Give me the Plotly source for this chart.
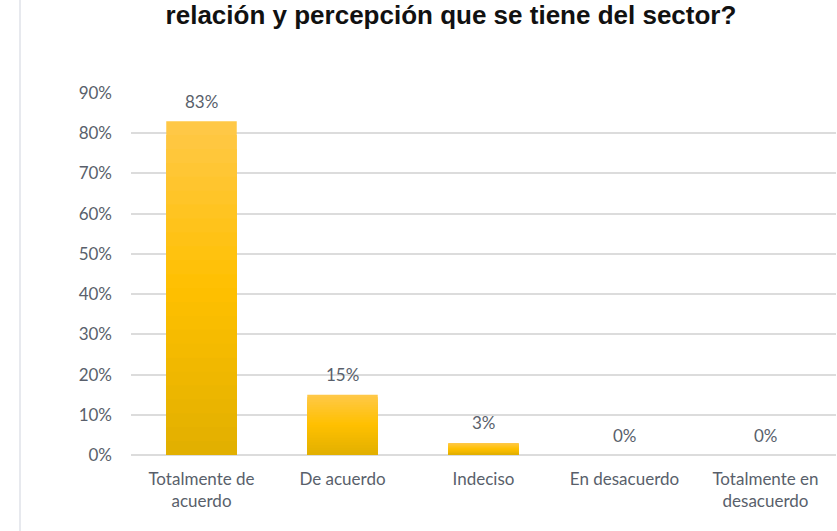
import plotly.graph_objects as go

# Survey responses
categories = ["Totalmente de<br>acuerdo", "De acuerdo", "Indeciso", "En desacuerdo", "Totalmente en<br>desacuerdo"]
shares = [0.83, 0.15, 0.03, 0.0, 0.0]
tick_values = [0, 0.1, 0.2, 0.3, 0.4, 0.5, 0.6, 0.7, 0.8, 0.9]
tick_labels = [f"{int(round(v * 100))}%" for v in tick_values]
title_text = "relación y percepción que se tiene del sector?"

LABEL_FONT = "Lato, Open Sans, sans-serif"
LABEL_COLOR = "#595F6B"

# Vertical gradient on the bars: overlay progressively shorter, darker bars
steps = 24
top_rgb = (255, 200, 70)
mid_rgb = (255, 192, 0)
bot_rgb = (226, 176, 0)


def blend(a, b, t):
    return tuple(int(round(a[i] + (b[i] - a[i]) * t)) for i in range(3))


fig = go.Figure()
for k in range(steps):
    frac = 1 - k / steps
    t = k / (steps - 1)
    if t < 0.5:
        c = blend(top_rgb, mid_rgb, t / 0.5)
    else:
        c = blend(mid_rgb, bot_rgb, (t - 0.5) / 0.5)
    fig.add_trace(go.Bar(
        x=categories,
        y=[v * frac for v in shares],
        marker=dict(color=f"rgb{c}", line=dict(width=0)),
        hoverinfo="skip",
        showlegend=False,
    ))

# Value labels above each bar
annotations = [
    dict(
        x=cat, y=v, xref="x", yref="y",
        text=f"{round(v * 100)}%",
        showarrow=False,
        yanchor="middle",
        yshift=20,
        font=dict(family=LABEL_FONT, size=17, color=LABEL_COLOR),
    )
    for cat, v in zip(categories, shares)
]

fig.update_layout(
    width=837,
    height=531,
    barmode="overlay",
    bargap=0.5,
    plot_bgcolor="white",
    paper_bgcolor="white",
    margin=dict(l=131, r=1, t=93, b=76),
    annotations=annotations,
    title=dict(
        text=title_text,
        x=451 / 837,
        xanchor="center",
        xref="container",
        y=1 - 15 / 531,
        yanchor="middle",
        yref="container",
        font=dict(family="Liberation Sans, Arial, sans-serif", size=26, color="#111111", weight="bold"),
    ),
    shapes=[dict(
        type="line", xref="paper", yref="paper",
        x0=-111 / 705, x1=-111 / 705, y0=-76 / 362, y1=1 + 93 / 362,
        line=dict(color="#DFE2E8", width=1.5),
    )],
)

fig.update_xaxes(
    showgrid=False,
    showline=False,
    ticks="",
    ticklabelstandoff=12,
    tickfont=dict(family=LABEL_FONT, size=17, color=LABEL_COLOR),
)
fig.update_yaxes(
    range=[0, 0.9],
    tickvals=tick_values,
    ticktext=tick_labels,
    showgrid=True,
    gridcolor="#DCDCDC",
    gridwidth=1.5,
    zeroline=True,
    zerolinecolor="#DCDCDC",
    zerolinewidth=1.5,
    showline=False,
    ticks="",
    ticklabelstandoff=18,
    tickfont=dict(family=LABEL_FONT, size=17, color=LABEL_COLOR),
)

fig.write_html("out.html")
